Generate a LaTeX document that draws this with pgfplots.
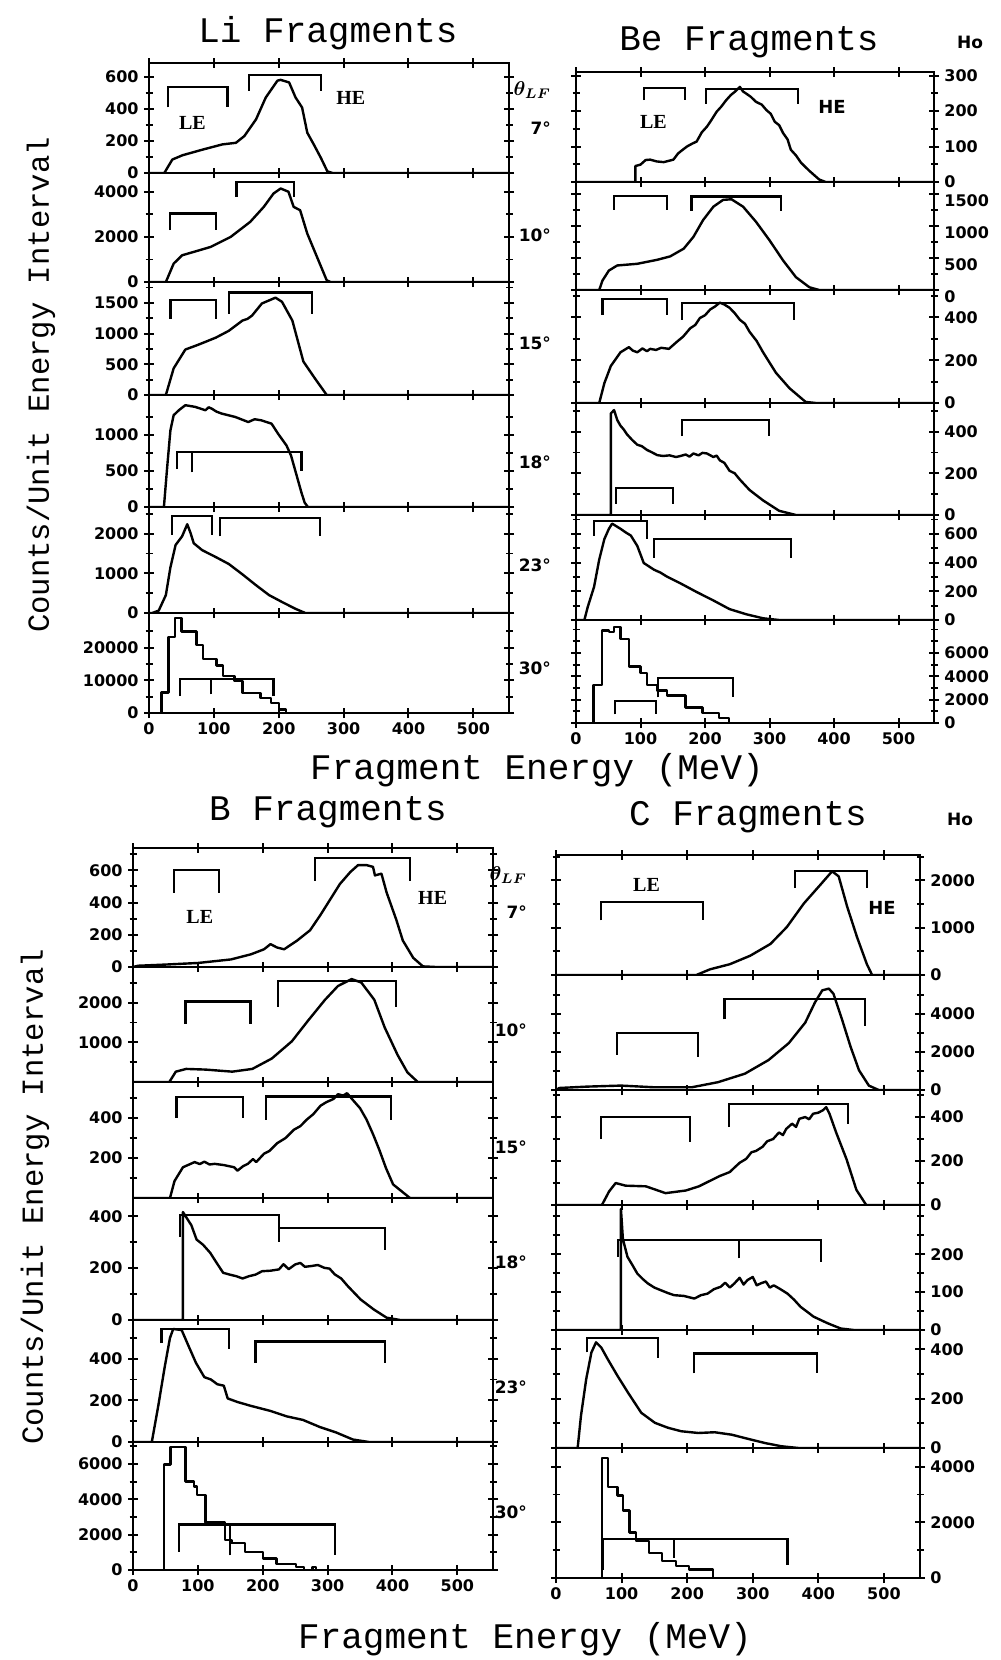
\documentclass[border=0pt]{standalone}
\usepackage{fontspec}
\setmainfont{Liberation Mono}
\newfontfamily\tkf{DejaVu Sans}
\newfontfamily\lbf{Liberation Serif}
\usepackage{pgfplots}
\pgfplotsset{compat=1.18}
\pgfplotsset{
  sub/.style={scale only axis, width=180pt, xmin=0, xmax=555, ymin=0,
    axis line style={line width=1.1pt},
    xtick={0,100,200,300,400,500}, xticklabels={},
    tick align=center, major tick length=5pt, minor tick length=3.5pt,
    tick style={black, line width=1pt},
    minor tick style={black, line width=0.9pt},
    tick label style={font=\tkf\bfseries\fontsize{8}{8}\selectfont},
    /pgf/number format/assume math mode=true,
    /pgf/number format/1000 sep={},
    scaled y ticks=false, anchor=north west},
  L/.style={yticklabel pos=left, yticklabel style={inner sep=0.5pt, xshift=-2pt}},
  R/.style={yticklabel pos=right, yticklabel style={inner sep=0.5pt, xshift=2pt}},
  bot/.style={xticklabels={0,100,200,300,400,500}, xticklabel style={inner sep=0.5pt, yshift=-1.5pt}},
  cv/.style={black, line width=1.2pt, line join=round, no marks},
  br/.style={black, line width=1.1pt, no marks},
}
\newcommand{\lefont}{\lbf\bfseries\fontsize{10}{10}\selectfont}
\newcommand{\hefont}{\tkf\bfseries\fontsize{9}{9}\selectfont}
\newcommand{\angfont}{\tkf\bfseries\fontsize{8.5}{8.5}\selectfont}
\newcommand{\thfont}{\boldmath\fontsize{10}{10}\selectfont}
\begin{document}
\begin{tikzpicture}
\useasboundingbox (0,0) rectangle (500.5pt,-830pt);
% ================= Li =================
\begin{axis}[sub,L,at={(74.5pt,-31.5pt)},height=55pt,ymax=685,ytick={0,200,400,600},minor ytick={100,300,500}]
\addplot[cv] coordinates {(0,0)(23.6,0)(36,84)(52,111)(83,146)(113,178)(134,188)(147,230)(165,334)(180,470)(198,575)(203,580)(216,564)(226,470)(236,408)(244,251)(254,178)(265,94)(275,10)(283,0)(555,0)};
\addplot[br] coordinates {(29,408)(29,537)(121,537)(121,408)};
\addplot[br] coordinates {(154,512)(154,612)(265,612)(265,512)};
\node[font=\lefont] at (axis cs:67,313) {LE};
\node[font=\lefont] at (axis cs:311,470) {HE};
\end{axis}
\begin{axis}[sub,L,at={(74.5pt,-86.5pt)},height=54.5pt,ymax=4830,ytick={0,2000,4000},minor ytick={1000,3000}]
\addplot[cv] coordinates {(0,0)(26,0)(38,814)(51,1184)(74,1376)(95,1554)(126,2000)(156,2664)(177,3330)(192,3922)(203,4144)(215,4000)(223,3330)(233,3180)(244,2146)(259,1110)(274,74)(280,0)(555,0)};
\addplot[br] coordinates {(32,2294)(32,3034)(103,3034)(103,2294)};
\addplot[br] coordinates {(135,3774)(135,4440)(223,4440)(223,3774)};
\end{axis}
\begin{axis}[sub,L,at={(74.5pt,-141pt)},height=56.5pt,ymax=1840,ytick={0,500,1000,1500},minor ytick={250,750,1250,1750}]
\addplot[cv] coordinates {(0,0)(26,0)(38,434)(56,740)(77,823)(103,934)(123,1045)(144,1212)(152,1240)(159,1295)(174,1490)(195,1585)(205,1518)(221,1212)(238,545)(256,267)(274,0)(555,0)};
\addplot[br] coordinates {(33,1240)(33,1545)(103,1545)(103,1240)};
\addplot[br] coordinates {(123,1323)(123,1668)(251,1668)(251,1323)};
\end{axis}
\begin{axis}[sub,L,at={(74.5pt,-197.5pt)},height=56pt,ymax=1550,ytick={0,500,1000},minor ytick={250,750,1250}]
\addplot[cv] coordinates {(0,0)(23,0)(28,549)(33,1060)(38,1270)(46,1339)(56,1409)(71,1386)(87,1339)(92,1380)(97,1360)(104,1320)(112,1293)(133,1246)(153,1176)(163,1215)(173,1200)(189,1153)(199,1014)(212,851)(219,711)(227,456)(235,200)(240,60)(245,0)(555,0)};
\addplot[br] coordinates {(43,525)(43,758)(235,758)(235,500)};
\addplot[br] coordinates {(66,480)(66,758)};
\end{axis}
\begin{axis}[sub,L,at={(74.5pt,-253.5pt)},height=53pt,ymax=2670,ytick={0,1000,2000},minor ytick={500,1500,2500}]
\addplot[cv] coordinates {(0,0)(5,0)(15,61)(26,452)(33,1148)(41,1714)(51,1931)(59,2236)(64,2018)(69,1757)(82,1583)(103,1409)(123,1235)(144,974)(164,713)(185,452)(205,278)(226,104)(241,0)(555,0)};
\addplot[br] coordinates {(36,1975)(36,2453)(97,2453)(97,1975)};
\addplot[br] coordinates {(110,1931)(110,2384)(264,2384)(264,1931)};
\end{axis}
\begin{axis}[sub,L,bot,at={(74.5pt,-306.5pt)},height=50pt,ymax=30570,ytick={0,10000,20000},minor ytick={5000,15000,25000}]
\addplot[cv,const plot] coordinates {(0,0)(19,6216)(30,23300)(40,29000)(50,24860)(73,20700)(83,16600)(104,14500)(114,11400)(132,9840)(144,6200)(172,4660)(188,3100)(200,1036)(211,0)(555,0)};
\addplot[br] coordinates {(48,5180)(48,10360)(192,10360)(192,5180)};
\addplot[br] coordinates {(95,5700)(95,10360)};
\end{axis}
% ================= Be =================
\begin{axis}[sub,R,at={(288pt,-36pt)},width=179pt,height=55pt,ymax=310,ytick={0,100,200,300},minor ytick={50,150,250}]
\addplot[cv] coordinates {(0,0)(92,0)(92,45)(100,49)(108,62)(115,63)(125,58)(136,56)(151,63)(158,80)(162,86)(172,100)(180,108)(187,114)(195,140)(203,156)(210,175)(218,198)(225,212)(233,231)(240,245)(246,254)(254,268)(259,255)(264,249)(271,240)(279,226)(288,218)(295,203)(302,192)(308,170)(315,160)(321,138)(328,120)(333,91)(341,75)(349,54)(362,31)(377,7)(387,0)(555,0)};
\addplot[br] coordinates {(105,231)(105,266)(169,266)(169,231)};
\addplot[br] coordinates {(202,221)(202,263)(344,263)(344,221)};
\node[font=\lefont] at (axis cs:120,170) {LE};
\node[font=\hefont] at (axis cs:397,212) {HE};
\end{axis}
\begin{axis}[sub,R,at={(288pt,-91pt)},width=179pt,height=54pt,ymax=1690,ytick={0,500,1000,1500},minor ytick={250,750,1250},yticklabel style={yshift=-3.5pt}]
\addplot[cv] coordinates {(0,0)(36,0)(41,147)(51,305)(64,384)(95,410)(126,473)(146,526)(167,647)(182,831)(197,1094)(213,1304)(228,1410)(241,1420)(259,1304)(279,1068)(300,778)(321,463)(341,200)(362,42)(377,0)(555,0)};
\addplot[br] coordinates {(59,1252)(59,1473)(141,1473)(141,1252)};
\addplot[br] coordinates {(179,1241)(179,1462)(318,1462)(318,1241)};
\end{axis}
\begin{axis}[sub,R,at={(288pt,-145pt)},width=179pt,height=56.5pt,ymax=528,ytick={0,200,400},minor ytick={100,300,500}]
\addplot[cv] coordinates {(0,0)(36,0)(44,93)(54,173)(69,237)(82,261)(88,245)(95,237)(103,255)(110,242)(115,253)(124,248)(132,258)(144,253)(156,285)(166,310)(177,349)(185,365)(192,397)(200,410)(208,437)(215,450)(223,469)(230,460)(238,445)(246,420)(254,389)(262,370)(269,333)(280,290)(290,237)(310,141)(331,69)(356,5)(372,0)(555,0)};
\addplot[br] coordinates {(41,413)(41,485)(141,485)(141,413)};
\addplot[br] coordinates {(164,389)(164,469)(338,469)(338,389)};
\end{axis}
\begin{axis}[sub,R,at={(288pt,-201.5pt)},width=179pt,height=56pt,ymax=537,ytick={0,200,400},minor ytick={100,300,500}]
\addplot[cv] coordinates {(0,0)(54,0)(54,487)(59,503)(64,455)(69,428)(74,410)(79,387)(87,360)(95,337)(102,330)(110,312)(118,300)(126,287)(135,283)(145,286)(155,278)(162,283)(170,290)(176,280)(182,295)(190,286)(196,298)(203,295)(213,278)(218,285)(223,262)(230,250)(238,212)(246,200)(254,170)(269,120)(290,70)(315,20)(341,0)(555,0)};
\addplot[br] coordinates {(164,378)(164,457)(299,457)(299,378)};
\addplot[br] coordinates {(62,53)(62,128)(150,128)(150,53)};
\end{axis}
\begin{axis}[sub,R,at={(288pt,-257.5pt)},width=179pt,height=52.5pt,ymax=731,ytick={0,200,400,600},minor ytick={100,300,500,700}]
\addplot[cv] coordinates {(0,0)(13,0)(18,88)(28,231)(36,421)(44,564)(51,635)(56,671)(69,635)(77,610)(85,588)(95,516)(105,397)(121,350)(131,330)(141,302)(162,255)(187,195)(213,136)(238,76)(264,40)(290,12)(315,0)(555,0)};
\addplot[br] coordinates {(28,588)(28,688)(110,688)(110,564)};
\addplot[br] coordinates {(121,433)(121,564)(333,564)(333,433)};
\end{axis}
\begin{axis}[sub,R,bot,at={(288pt,-310pt)},width=179pt,height=51.5pt,ymax=8820,ytick={0,2000,4000,6000},minor ytick={1000,3000,5000,7000,8000}]
\addplot[cv,const plot] coordinates {(0,0)(27,3234)(40,7938)(51,7790)(59,8232)(69,7203)(82,4851)(100,4263)(110,3234)(126,2793)(141,2352)(170,1323)(196,882)(222,441)(237,0)(555,0)};
\addplot[br] coordinates {(61,735)(61,1911)(124,1911)(124,735)};
\addplot[br] coordinates {(127,2205)(127,3822)(243,3822)(243,2205)};
\end{axis}
% ================= B =================
\begin{axis}[sub,L,at={(66.5pt,-424pt)},height=59.5pt,ymax=738,ytick={0,200,400,600},minor ytick={100,300,500,700}]
\addplot[cv] coordinates {(0,0)(8,8)(49,15)(100,25)(151,47)(182,79)(202,110)(212,142)(222,121)(233,110)(253,164)(273,228)(289,323)(304,419)(319,515)(335,589)(347,632)(360,632)(370,621)(373,568)(383,579)(391,462)(406,292)(416,164)(432,57)(447,4)(467,0)(555,0)};
\addplot[br] coordinates {(63,462)(63,600)(133,600)(133,462)};
\addplot[br] coordinates {(281,536)(281,675)(427,675)(427,536)};
\node[font=\lefont] at (axis cs:103,313) {LE};
\node[font=\lefont] at (axis cs:462,430) {HE};
\end{axis}
\begin{axis}[sub,L,at={(66.5pt,-483.5pt)},height=57.5pt,ymax=2897,ytick={1000,2000},minor ytick={500,1500,2500}]
\addplot[cv] coordinates {(0,0)(56,0)(66,261)(82,330)(112,313)(153,261)(184,330)(214,592)(245,1027)(270,1549)(296,2071)(316,2419)(337,2593)(352,2506)(372,2071)(388,1375)(408,679)(423,244)(439,0)(555,0)};
\addplot[br] coordinates {(81,1462)(81,2027)(181,2027)(181,1462)};
\addplot[br] coordinates {(224,1897)(224,2549)(406,2549)(406,1897)};
\end{axis}
\begin{axis}[sub,L,at={(66.5pt,-541pt)},height=58pt,ymax=581,ytick={200,400},minor ytick={100,300,500}]
\addplot[cv] coordinates {(0,0)(57,0)(64,85)(77,154)(95,180)(103,170)(110,182)(118,168)(126,171)(140,165)(156,154)(161,137)(170,160)(177,171)(185,195)(190,180)(202,222)(210,235)(222,274)(235,300)(248,342)(258,360)(268,393)(278,420)(289,462)(298,480)(309,496)(316,520)(324,513)(330,525)(340,487)(350,450)(360,393)(370,320)(380,239)(390,150)(401,68)(427,0)(555,0)};
\addplot[br] coordinates {(67,402)(67,504)(170,504)(170,402)};
\addplot[br] coordinates {(205,393)(205,508)(398,508)(398,393)};
\end{axis}
\begin{axis}[sub,L,at={(66.5pt,-599pt)},height=61pt,ymax=470,ytick={0,200,400},minor ytick={100,300}]
\addplot[cv] coordinates {(0,0)(77,0)(77,416)(80,404)(90,365)(98,310)(108,290)(119,259)(129,220)(139,182)(149,175)(159,169)(169,160)(179,169)(189,175)(199,188)(212,190)(225,195)(232,215)(240,196)(250,214)(258,220)(265,205)(275,208)(285,212)(295,201)(303,198)(311,176)(321,160)(331,131)(341,105)(351,79)(361,60)(371,41)(391,9)(412,0)(555,0)};
\addplot[br] coordinates {(72,320)(72,404)(225,404)(225,301)};
\addplot[br] coordinates {(225,354)(388,354)(388,269)};
\end{axis}
\begin{axis}[sub,L,at={(66.5pt,-660pt)},height=61pt,ymax=585,ytick={0,200,400},minor ytick={100,300,500}]
\addplot[cv] coordinates {(0,0)(29,0)(39,174)(49,362)(57,499)(62,542)(75,537)(85,465)(97,380)(110,311)(120,300)(130,277)(140,270)(146,209)(161,192)(181,174)(212,149)(237,123)(262,106)(288,72)(313,46)(339,12)(364,0)(555,0)};
\addplot[br] coordinates {(44,474)(44,542)(148,542)(148,448)};
\addplot[br] coordinates {(189,380)(189,482)(388,482)(388,380)};
\end{axis}
\begin{axis}[sub,L,bot,at={(66.5pt,-721pt)},height=64pt,ymax=7240,ytick={0,2000,4000,6000},minor ytick={1000,3000,5000,7000}]
\addplot[cv,const plot] coordinates {(0,0)(48,5975)(58,6945)(81,5005)(94,4714)(99,4229)(112,2677)(142,1707)(152,1513)(173,1028)(200,640)(221,349)(251,155)(264,0)(277,155)(282,0)(555,0)};
\addplot[br] coordinates {(71,1028)(71,2580)(312,2580)(312,834)};
\addplot[br] coordinates {(150,834)(150,2580)};
\end{axis}
% ================= C =================
\begin{axis}[sub,R,at={(278pt,-427.5pt)},width=182pt,height=60pt,ymax=2536,ytick={0,1000,2000},minor ytick={500,1500,2500}]
\addplot[cv] coordinates {(0,0)(214,0)(235,121)(265,228)(296,407)(327,657)(352,1014)(378,1514)(403,1906)(421,2192)(431,2085)(444,1442)(459,800)(474,228)(482,0)(555,0)};
\addplot[br] coordinates {(69,1157)(69,1549)(224,1549)(224,1157)};
\addplot[br] coordinates {(365,1835)(365,2192)(474,2192)(474,1835)};
\node[font=\lefont] at (axis cs:138,1906) {LE};
\node[font=\hefont] at (axis cs:497,1407) {HE};
\end{axis}
\begin{axis}[sub,R,at={(278pt,-487.5pt)},width=182pt,height=57.5pt,ymax=6036,ytick={0,2000,4000},minor ytick={1000,3000,5000}]
\addplot[cv] coordinates {(0,0)(5,107)(48,179)(99,232)(150,143)(207,143)(247,411)(288,857)(324,1571)(355,2464)(380,3536)(395,4608)(406,5232)(416,5322)(423,5054)(436,3714)(449,2286)(462,1036)(477,232)(492,0)(555,0)};
\addplot[br] coordinates {(93,1840)(93,3000)(216,3000)(216,1750)};
\addplot[br] coordinates {(257,3714)(257,4786)(471,4786)(471,3357)};
\end{axis}
\begin{axis}[sub,R,at={(278pt,-545pt)},width=182pt,height=57.5pt,ymax=523,ytick={0,200,400},minor ytick={100,300,500}]
\addplot[cv] coordinates {(0,0)(70,0)(81,62)(91,100)(106,88)(137,85)(167,54)(198,66)(218,85)(249,131)(265,150)(272,170)(280,192)(290,210)(298,240)(305,246)(315,265)(322,290)(331,300)(340,330)(346,318)(351,346)(360,370)(366,355)(371,392)(380,400)(386,390)(392,415)(400,420)(407,431)(412,445)(417,415)(427,331)(443,208)(458,69)(473,0)(555,0)};
\addplot[br] coordinates {(69,300)(69,400)(204,400)(204,285)};
\addplot[br] coordinates {(264,354)(264,461)(445,461)(445,369)};
\end{axis}
\begin{axis}[sub,R,at={(278pt,-602.5pt)},width=182pt,height=62.5pt,ymax=330,ytick={0,100,200},minor ytick={50,150,250,300}]
\addplot[cv] coordinates {(0,0)(99,0)(99,320)(102,240)(109,193)(117,170)(124,149)(132,135)(140,123)(150,112)(160,105)(170,98)(180,92)(195,90)(211,83)(221,92)(231,96)(241,108)(251,114)(258,125)(265,112)(272,123)(280,138)(286,120)(292,132)(300,140)(306,118)(312,123)(320,128)(326,112)(332,118)(342,108)(353,96)(363,80)(373,61)(383,48)(393,35)(414,18)(434,4)(454,0)(555,0)};
\addplot[br] coordinates {(94,193)(94,237)(404,237)(404,180)};
\addplot[br] coordinates {(279,189)(279,237)};
\end{axis}
\begin{axis}[sub,R,at={(278pt,-665pt)},width=182pt,height=59pt,ymax=479,ytick={0,200,400},minor ytick={100,300}]
\addplot[cv] coordinates {(0,0)(33,0)(38,129)(46,279)(54,388)(61,429)(69,408)(79,360)(94,292)(110,224)(130,143)(151,102)(171,82)(191,68)(217,61)(242,64)(268,54)(293,37)(319,20)(344,7)(370,0)(555,0)};
\addplot[br] coordinates {(47,388)(47,445)(155,445)(155,367)};
\addplot[br] coordinates {(211,303)(211,384)(398,384)(398,303)};
\end{axis}
\begin{axis}[sub,R,bot,at={(278pt,-724pt)},width=182pt,height=65pt,ymax=4667,ytick={0,2000,4000},minor ytick={1000,3000}]
\addplot[cv,const plot] coordinates {(0,0)(70,4303)(79,3272)(94,2969)(102,2424)(112,1636)(122,1333)(142,909)(162,606)(183,424)(203,303)(239,0)(555,0)};
\addplot[br] coordinates {(71,303)(71,1394)(353,1394)(353,485)};
\addplot[br] coordinates {(180,727)(180,1394)};
\end{axis}
% ================= texts =================
\node[anchor=base,font=\fontsize{18}{18}\selectfont] at (164pt,-21pt) {Li Fragments};
\node[anchor=base,font=\fontsize{18}{18}\selectfont] at (374.5pt,-25pt) {Be Fragments};
\node[anchor=base,font=\fontsize{18}{18}\selectfont] at (164pt,-410pt) {B Fragments};
\node[anchor=base,font=\fontsize{18}{18}\selectfont] at (374pt,-412.5pt) {C Fragments};
\node[anchor=base,font=\tkf\bfseries\fontsize{8.5}{8.5}\selectfont] at (485pt,-24pt) {Ho};
\node[anchor=base,font=\tkf\bfseries\fontsize{8.5}{8.5}\selectfont] at (480pt,-412.5pt) {Ho};
\node[anchor=base,inner sep=0pt,font=\fontsize{18}{18}\selectfont] at (268.5pt,-389.5pt) {Fragment Energy (MeV)};
\node[anchor=base,inner sep=0pt,font=\fontsize{18}{18}\selectfont] at (262.5pt,-824pt) {Fragment Energy (MeV)};
\node[rotate=90,font=\fontsize{15.3}{15.3}\selectfont] at (20.5pt,-192.5pt) {Counts/Unit Energy Interval};
\node[rotate=90,font=\fontsize{15.3}{15.3}\selectfont] at (17.5pt,-598.5pt) {Counts/Unit Energy Interval};
% angle labels Be
\node[anchor=east,font=\thfont] at (279pt,-45pt) {$\theta_{LF}$};
\node[anchor=east,font=\angfont] at (279pt,-64pt) {7°};
\node[anchor=east,font=\angfont] at (279pt,-117.5pt) {10°};
\node[anchor=east,font=\angfont] at (279pt,-171.5pt) {15°};
\node[anchor=east,font=\angfont] at (279pt,-231pt) {18°};
\node[anchor=east,font=\angfont] at (279pt,-282.5pt) {23°};
\node[anchor=east,font=\angfont] at (279pt,-334pt) {30°};
% angle labels C
\node[anchor=east,font=\thfont] at (267pt,-437.5pt) {$\theta_{LF}$};
\node[anchor=east,font=\angfont] at (267pt,-456pt) {7°};
\node[anchor=east,font=\angfont] at (267pt,-515pt) {10°};
\node[anchor=east,font=\angfont] at (267pt,-573.5pt) {15°};
\node[anchor=east,font=\angfont] at (267pt,-631pt) {18°};
\node[anchor=east,font=\angfont] at (267pt,-693.5pt) {23°};
\node[anchor=east,font=\angfont] at (267pt,-756pt) {30°};
\end{tikzpicture}
\end{document}
